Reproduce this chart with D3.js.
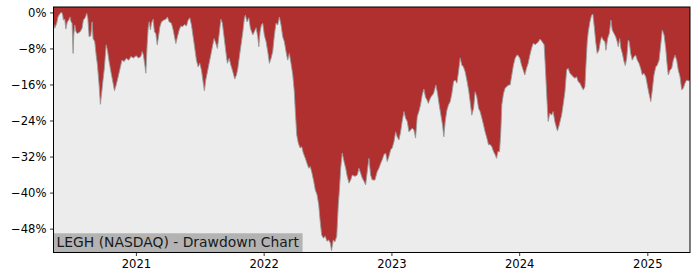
<!DOCTYPE html>
<html>
<head>
<meta charset="utf-8">
<script src="https://cdn.jsdelivr.net/npm/d3@7"></script>
<style>
  html, body { margin: 0; padding: 0; background: #ffffff; }
  svg { display: block; }
  text { font-family: "DejaVu Sans", sans-serif; }
</style>
</head>
<body>
<svg id="chart" width="700" height="280"></svg>
<script>
// ---- Data (dates as decimal years, drawdown in %) ----
const dates = [
  2020.357,2020.367,2020.382,2020.392,2020.408,2020.421,2020.429,2020.434,2020.445,2020.453,
  2020.465,2020.476,2020.486,2020.494,2020.502,2020.510,2020.515,2020.523,2020.533,2020.543,
  2020.565,2020.580,2020.590,2020.604,2020.617,2020.625,2020.635,2020.648,2020.658,2020.666,
  2020.679,2020.690,2020.700,2020.713,2020.723,2020.734,2020.742,2020.754,2020.768,2020.778,
  2020.791,2020.805,2020.820,2020.833,2020.846,2020.859,2020.877,2020.891,2020.909,2020.924,
  2020.945,2020.961,2020.981,
  2021.002,2021.020,2021.039,2021.049,2021.059,2021.070,2021.078,2021.088,2021.096,2021.104,
  2021.114,2021.122,2021.135,2021.145,2021.156,2021.167,2021.177,2021.188,2021.200,2021.219,
  2021.235,2021.247,2021.260,2021.278,2021.292,2021.302,2021.313,2021.325,2021.339,2021.352,
  2021.364,2021.380,2021.396,2021.409,2021.422,2021.435,2021.448,2021.461,2021.474,2021.487,
  2021.500,2021.513,2021.526,2021.536,2021.547,2021.560,2021.573,2021.586,2021.599,2021.612,
  2021.626,2021.638,2021.651,2021.665,2021.677,2021.690,2021.704,2021.716,2021.730,2021.743,
  2021.755,2021.774,2021.787,2021.798,2021.810,2021.823,2021.837,2021.849,2021.857,2021.870,
  2021.884,2021.896,2021.915,2021.927,2021.941,2021.954,2021.962,2021.972,2021.982,2021.993,
  2022.005,2022.019,2022.032,2022.045,2022.058,2022.071,2022.084,2022.097,2022.110,2022.123,
  2022.136,2022.149,2022.162,2022.175,2022.188,2022.201,2022.214,2022.228,2022.240,2022.248,
  2022.259,2022.271,2022.285,2022.298,2022.310,2022.326,2022.339,2022.353,2022.365,2022.378,
  2022.392,2022.404,2022.418,2022.431,2022.441,2022.454,2022.467,2022.482,2022.496,2022.509,
  2022.522,2022.531,2022.545,2022.558,2022.572,2022.584,2022.593,2022.603,2022.615,2022.629,
  2022.642,2022.654,2022.668,2022.681,2022.694,2022.715,2022.733,2022.746,2022.759,2022.772,
  2022.785,2022.798,2022.811,2022.824,2022.837,2022.850,2022.871,2022.889,2022.902,2022.916,
  2022.928,2022.941,2022.955,2022.967,2022.980,2022.994,
  2023.006,2023.020,2023.033,2023.045,2023.059,2023.072,2023.084,2023.098,2023.111,2023.124,
  2023.137,2023.150,2023.163,2023.176,2023.189,2023.202,2023.215,2023.228,2023.241,2023.254,
  2023.266,2023.278,2023.289,2023.299,2023.311,2023.330,2023.348,2023.361,2023.374,2023.387,
  2023.400,2023.410,2023.421,2023.434,2023.447,2023.460,2023.473,2023.486,2023.499,2023.512,
  2023.525,2023.538,2023.551,2023.564,2023.577,2023.590,2023.604,2023.616,2023.629,2023.643,
  2023.655,2023.668,2023.682,2023.694,2023.708,2023.721,2023.733,2023.747,2023.760,2023.772,
  2023.786,2023.799,2023.812,2023.823,2023.833,2023.846,2023.856,2023.864,2023.877,2023.890,
  2023.903,2023.916,2023.929,2023.942,2023.955,2023.968,2023.981,2023.991,
  2024.005,2024.018,2024.031,2024.044,2024.057,2024.070,2024.083,2024.096,2024.109,2024.127,
  2024.148,2024.163,2024.179,2024.195,2024.206,2024.216,2024.226,2024.239,2024.253,2024.265,
  2024.278,2024.292,2024.299,2024.312,2024.331,2024.343,2024.357,2024.370,2024.382,2024.396,
  2024.409,2024.421,2024.435,2024.448,2024.461,2024.474,2024.487,2024.500,2024.513,2024.521,
  2024.531,2024.539,2024.552,2024.565,2024.575,2024.586,2024.597,2024.609,2024.622,2024.633,
  2024.643,2024.656,2024.669,2024.677,2024.690,2024.703,2024.716,2024.726,2024.740,2024.753,
  2024.765,2024.773,2024.784,2024.794,2024.805,2024.818,2024.828,2024.839,2024.851,2024.859,
  2024.870,2024.883,2024.896,2024.909,2024.922,2024.935,2024.948,2024.961,2024.974,2024.988,
  2025.000,2025.013,2025.027,2025.039,2025.052,2025.066,2025.078,2025.092,2025.105,2025.117,
  2025.131,2025.144,2025.154,2025.164,2025.178,2025.191,2025.203,2025.217,2025.230,2025.242,
  2025.256,2025.269,2025.282,2025.295,2025.308,2025.321,2025.334
];

const drawdown = [
  -2.4,-3.5,-2.4,-1.0,-0.2,0,-0.6,-1.7,-1.5,-3.7,
  -2.1,-1.7,-1.0,-2.1,-2.4,-9.1,-5.0,-2.8,-4.3,-4.7,
  -4.3,-3.5,-1.7,-1.2,-0.2,-1.3,-5.4,-5.2,-2.1,-5.8,
  -6.5,-9.5,-11.7,-16.1,-20.4,-17.6,-15.4,-12.4,-7.2,-8.4,
  -10.9,-13.2,-15.4,-17.4,-16.1,-14.6,-12.4,-10.6,-10.9,-10.2,
  -10.6,-9.8,-10.1,
  -9.6,-10.1,-9.8,-8.7,-9.5,-11.7,-13.5,-7.2,-3.5,-2.1,
  -3.9,-2.4,-1.5,-4.3,-4.7,-7.2,-5.4,-3.2,-2.1,-1.7,
  -1.5,-1.0,-2.1,-2.4,-3.9,-5.4,-6.9,-5.4,-3.9,-3.0,
  -3.2,-2.7,-3.0,-1.7,-1.2,-2.8,-5.4,-8.0,-10.6,-12.1,
  -11.3,-12.8,-15.4,-17.4,-15.0,-13.2,-11.3,-9.5,-7.6,-5.8,
  -6.9,-8.0,-5.0,-1.5,-2.4,-5.4,-8.7,-11.3,-10.2,-11.7,
  -12.8,-14.8,-13.9,-12.4,-9.8,-7.2,-4.3,-1.3,-0.6,-2.1,
  -1.2,-3.5,-5.0,-4.3,-3.4,-5.4,-7.6,-4.3,-2.8,-2.4,
  -5.0,-6.5,-8.7,-11.3,-10.2,-8.7,-5.0,-2.4,-2.8,-1.0,
  -2.8,-5.4,-6.5,-8.7,-10.6,-9.1,-11.3,-13.9,-17.6,-22.0,
  -27.2,-29.0,-30.1,-29.8,-31.2,-32.4,-33.5,-34.6,-34.2,-35.7,
  -37.5,-39.4,-40.5,-42.7,-46.0,-49.4,-50.1,-49.7,-50.8,-50.5,
  -51.2,-52.9,-50.5,-50.9,-49.7,-42.7,-39.4,-34.6,-31.2,-33.1,
  -34.6,-36.4,-37.9,-37.2,-36.1,-36.4,-36.1,-34.6,-35.7,-36.8,
  -37.5,-38.3,-35.3,-32.4,-36.1,-37.2,-37.2,-35.3,-34.6,-33.5,
  -32.7,-31.6,-31.2,-33.1,-32.0,-30.5,
  -30.1,-28.7,-26.5,-27.6,-28.3,-26.5,-24.2,-22.0,-23.5,-24.2,
  -26.5,-26.1,-25.7,-26.1,-27.9,-23.1,-22.0,-20.5,-18.3,-17.0,
  -18.8,-19.4,-20.2,-19.4,-18.7,-18.0,-16.1,-18.0,-20.5,-22.8,
  -25.0,-27.6,-24.2,-21.7,-20.5,-19.8,-18.0,-15.4,-15.0,-15.7,
  -13.2,-10.1,-11.7,-12.1,-13.2,-15.0,-17.2,-19.8,-22.8,-21.3,
  -17.6,-18.7,-21.3,-22.0,-23.5,-25.0,-26.5,-27.9,-29.4,-29.3,
  -29.8,-30.9,-31.6,-32.4,-30.9,-30.9,-26.5,-20.5,-18.0,-16.8,
  -16.5,-16.1,-16.1,-13.9,-11.7,-10.2,-9.5,-9.5,
  -10.2,-11.7,-12.8,-13.9,-12.4,-11.3,-9.5,-8.0,-6.9,-7.1,
  -6.6,-5.9,-6.5,-7.2,-13.2,-19.1,-24.2,-22.4,-22.8,-22.0,
  -24.2,-25.7,-26.3,-25.0,-22.8,-20.5,-17.6,-12.8,-12.4,-13.5,
  -13.9,-14.3,-14.6,-14.3,-15.4,-15.7,-16.5,-17.2,-16.5,-11.7,
  -6.5,-4.3,-2.1,-0.6,-0.4,-3.2,-6.5,-9.1,-8.4,-6.5,
  -5.4,-6.1,-6.5,-8.4,-5.8,-4.7,-1.7,-3.9,-4.7,-5.4,
  -6.5,-7.6,-5.8,-8.0,-9.1,-10.9,-11.8,-10.2,-6.1,-6.5,
  -9.1,-10.6,-9.8,-9.5,-10.6,-11.3,-12.4,-13.9,-13.5,-14.3,
  -16.1,-18.0,-19.8,-17.2,-13.9,-12.1,-11.7,-10.6,-7.2,-3.9,
  -5.0,-8.0,-11.3,-13.9,-12.8,-12.4,-10.6,-9.5,-10.6,-12.8,
  -14.3,-17.2,-16.8,-15.7,-15.0,-15.2,-15.0
];

const xTickYears = [2021, 2022, 2023, 2024, 2025];
const yTickValues = [0, -8, -16, -24, -32, -40, -48];
const yDomain = [-53.3, 1.2];
const chartLabel = "LEGH (NASDAQ) - Drawdown Chart";

// ---- Helpers ----
function decYearToDate(v) {
  const yr = Math.floor(v);
  const s = Date.UTC(yr, 0, 1), e = Date.UTC(yr + 1, 0, 1);
  return new Date(s + (v - yr) * (e - s));
}

const series = dates.map((d, i) => ({ date: decYearToDate(d), value: drawdown[i] }));

// ---- Layout ----
const svg = d3.select("#chart");
const plotLeft = 53.5, plotRight = 690, plotTop = 7, plotBottom = 252.5;

const xScale = d3.scaleUtc()
  .domain(d3.extent(series, d => d.date))
  .range([plotLeft, plotRight]);

const yScale = d3.scaleLinear()
  .domain(yDomain)
  .range([plotBottom, plotTop]);

// Axes background
svg.append("rect")
  .attr("x", plotLeft).attr("y", plotTop)
  .attr("width", plotRight - plotLeft).attr("height", plotBottom - plotTop)
  .attr("fill", "#ececec");

// Clip
svg.append("clipPath").attr("id", "clip")
  .append("rect")
  .attr("x", plotLeft).attr("y", plotTop)
  .attr("width", plotRight - plotLeft).attr("height", plotBottom - plotTop);

const plotG = svg.append("g").attr("clip-path", "url(#clip)");

// Red fill from top down to the drawdown curve
const areaGen = d3.area()
  .x(d => xScale(d.date))
  .y0(plotTop)
  .y1(d => yScale(d.value));

plotG.append("path")
  .datum(series)
  .attr("d", areaGen)
  .attr("fill", "#b02f2f");

const lineGen = d3.line()
  .x(d => xScale(d.date))
  .y(d => yScale(d.value));

plotG.append("path")
  .datum(series)
  .attr("d", lineGen)
  .attr("fill", "none")
  .attr("stroke", "#9a9a9a")
  .attr("stroke-width", 0.9);

// Label box
const labelG = svg.append("g");
const labelText = labelG.append("text")
  .attr("x", 56.5)
  .attr("y", 247)
  .attr("font-size", "13.9px")
  .attr("fill", "#1a1a1a")
  .text(chartLabel);
const bb = labelText.node().getBBox();
labelG.insert("rect", "text")
  .attr("x", plotLeft)
  .attr("y", 233.3)
  .attr("width", (bb.x + bb.width + 3) - plotLeft)
  .attr("height", plotBottom - 233.3)
  .attr("fill", "#b3b3b3");

// Axes
const minus = "\u2212";
const xAxis = d3.axisBottom(xScale)
  .tickValues(xTickYears.map(yr => new Date(Date.UTC(yr, 0, 1))))
  .tickFormat(d3.utcFormat("%Y"))
  .tickSize(3.5)
  .tickPadding(3.5);

const yAxis = d3.axisLeft(yScale)
  .tickValues(yTickValues)
  .tickFormat(d => (d < 0 ? minus : "") + Math.abs(d) + "%")
  .tickSize(3.5)
  .tickPadding(3.5);

const gx = svg.append("g")
  .attr("transform", `translate(0,${plotBottom})`)
  .call(xAxis);
const gy = svg.append("g")
  .attr("transform", `translate(${plotLeft},0)`)
  .call(yAxis);

[gx, gy].forEach(ax => {
  ax.select(".domain").remove();
  ax.selectAll(".tick line").attr("stroke", "#000").attr("stroke-width", 0.8);
  ax.selectAll(".tick text")
    .attr("fill", "#000")
    .attr("font-size", "11.6px")
    .attr("font-family", "DejaVu Sans, sans-serif");
});

// Frame
svg.append("rect")
  .attr("x", plotLeft).attr("y", plotTop)
  .attr("width", plotRight - plotLeft).attr("height", plotBottom - plotTop)
  .attr("fill", "none")
  .attr("stroke", "#000")
  .attr("stroke-width", 1);
</script>
</body>
</html>
